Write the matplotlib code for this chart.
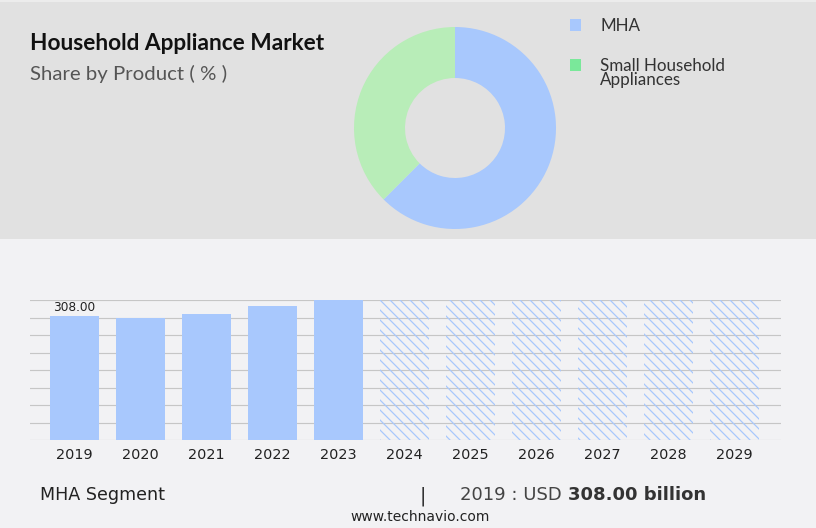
import matplotlib
matplotlib.use("Agg")
import matplotlib.pyplot as plt
from matplotlib.patches import Rectangle

# data
years = ["2019", "2020", "2021", "2022", "2023", "2024", "2025", "2026", "2027", "2028", "2029"]
values = [308.0, 303.8, 313.0, 333.0, 348.0]
forecast_level = 348.0
shares = [62.5, 37.5]
share_labels = ["MHA", "Small Household\nAppliances"]

BLUE = "#a8c8fd"
GREEN_PIE = "#b8edb8"
GREEN_KEY = "#7ae89a"
GRID = "#c6c6c6"

plt.rcParams["hatch.linewidth"] = 0.75

W, H = 816, 528
fig = plt.figure(figsize=(6.8, 4.4), dpi=120)
fig.patch.set_facecolor("#f2f2f4")
fig.add_artist(Rectangle((0, 1 - 239 / H), 1, 239 / H, transform=fig.transFigure,
                         facecolor="#e1e1e1", edgecolor="none", zorder=0))
fig.add_artist(Rectangle((0, 1 - 1.5 / H), 1, 1.5 / H, transform=fig.transFigure,
                         facecolor="#ececec", edgecolor="none", zorder=0))


def fx(px):
    return px / W


def fy(py):
    return 1 - py / H


# header text
fig.text(fx(30), fy(50), "Household Appliance Market", fontsize=13.6, fontweight="bold",
         family="Lato", color="#111111", va="baseline")
fig.text(fx(30), fy(80), "Share by Product ( % )", fontsize=12.2, family="Lato",
         color="#555555", va="baseline")

# donut
ax_pie = fig.add_axes([fx(354), fy(229), fx(202), 202 / H])
ax_pie.pie(shares, colors=[BLUE, GREEN_PIE], startangle=90, counterclock=False,
           radius=1.0, wedgeprops=dict(width=0.505, edgecolor="none"))
ax_pie.set_xlim(-1, 1)
ax_pie.set_ylim(-1, 1)
ax_pie.set_aspect("equal")
ax_pie.axis("off")

# legend
key_y = [25, 65]
for lbl, col, ky in zip(share_labels, [BLUE, GREEN_KEY], key_y):
    fig.add_artist(Rectangle((fx(570), fy(ky + 5.5)), fx(11), 11 / H, transform=fig.transFigure,
                             facecolor=col, edgecolor="none"))
    fig.text(fx(600), fy(ky - 7), lbl, fontsize=10.2, family="Lato", color="#333333",
             va="top", linespacing=0.85)

# bars
ax = fig.add_axes([fx(30), fy(440), fx(751), 140 / H])
ax.set_facecolor("none")
xs = list(range(len(years)))
n_hist = len(values)
ax.bar(xs[:n_hist], values, width=0.742, color=BLUE, zorder=3)
ax.bar(xs[n_hist:], [forecast_level] * (len(years) - n_hist), width=0.742, facecolor="none",
       edgecolor=BLUE, linewidth=0, hatch="\\\\\\\\", zorder=3)
ax.set_xlim(-0.674, 10.705)
ax.set_ylim(0, forecast_level)
for i in range(9):
    ax.axhline(forecast_level * i / 8, color=GRID, linewidth=0.7, zorder=1)
ax.set_yticks([])
ax.set_xticks(xs)
ax.set_xticklabels(years, fontsize=8.6, family="DejaVu Sans", color="#222222")
ax.tick_params(axis="x", length=0, pad=5)
for s in ax.spines.values():
    s.set_visible(False)
ax.text(0, values[0] + 4, f"{values[0]:.2f}", ha="center", va="bottom", fontsize=7.3,
        family="DejaVu Sans", color="#222222")

# footer
fig.text(fx(40), fy(500), "MHA Segment", fontsize=10.5, family="DejaVu Sans",
         color="#222222", va="baseline")
fig.text(fx(423), fy(501), "|", fontsize=11.5, family="DejaVu Sans", color="#333333",
         va="baseline", ha="center")
t1 = fig.text(fx(460), fy(500), "2019 : USD ", fontsize=10.8, family="DejaVu Sans",
              color="#444444", va="baseline")
fig.canvas.draw()
bb = t1.get_window_extent()
fig.text(bb.x1 / W, fy(500), "308.00 billion", fontsize=10.8, family="DejaVu Sans",
         fontweight="bold", color="#333333", va="baseline")
fig.text(fx(420), fy(521), "www.technavio.com", fontsize=8.3, family="DejaVu Sans",
         color="#222222", va="baseline", ha="center")

fig.savefig("out.png", dpi=120, facecolor=fig.get_facecolor())
